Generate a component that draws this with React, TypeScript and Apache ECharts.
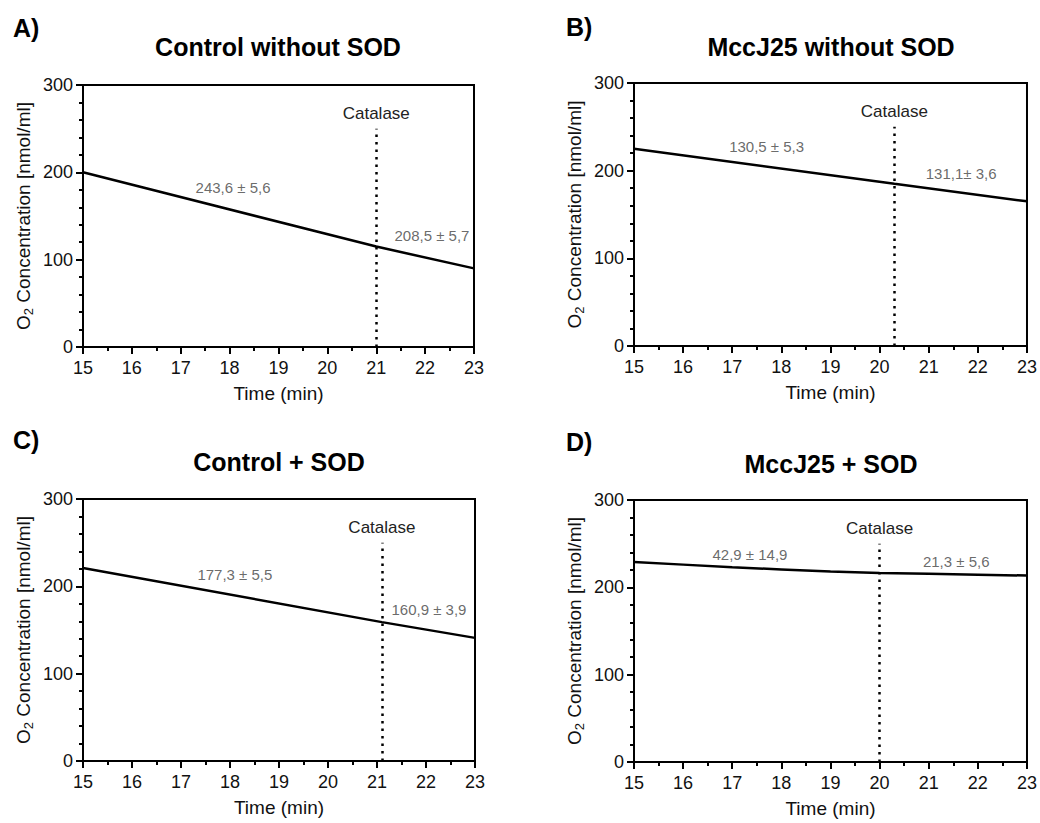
import React, { useEffect, useRef } from "react";
import * as echarts from "echarts";

const FONT = "Liberation Sans, Arial, sans-serif";

// Panel titles and letters
const panelLetters = ["A)", "B)", "C)", "D)"];
const panelTitles = ["Control without SOD", "MccJ25 without SOD", "Control + SOD", "MccJ25 + SOD"];

// Time (min) / O2 concentration (nmol/ml) per panel
const timeA = [15, 21, 23];
const valuesA = [200, 115, 90];
const timeB = [15, 20.3, 23];
const valuesB = [225, 185, 165];
const timeC = [15, 21.1, 23];
const valuesC = [221, 159, 141];
const timeD = [15, 16, 17, 18, 19, 20, 21, 22, 23];
const valuesD = [229, 226, 223, 220.5, 218, 216.5, 215.5, 214.5, 213.5];

// Catalase addition time per panel
const catalaseTimes = [21, 20.3, 21.1, 20];
const catalaseTop = 250;

// Rate annotations: text, x (min), y (nmol/ml)
const rateTextsA = ["243,6 \u00b1 5,6", "208,5 \u00b1 5,7"];
const rateXA = [18.07, 22.14];
const rateYA = [183, 128];
const rateTextsB = ["130,5 \u00b1 5,3", "131,1\u00b1 3,6"];
const rateXB = [17.7, 21.66];
const rateYB = [227, 197];
const rateTextsC = ["177,3 \u00b1 5,5", "160,9 \u00b1 3,9"];
const rateXC = [18.1, 22.06];
const rateYC = [214, 173];
const rateTextsD = ["42,9 \u00b1 14,9", "21,3 \u00b1 5,6"];
const rateXD = [17.36, 21.56];
const rateYD = [238, 230];

const xTicks = { min: 15, max: 23, interval: 1 };
const yTicks = { min: 0, max: 300, interval: 100 };

export default function App() {
  const ref = useRef<HTMLDivElement>(null);

  useEffect(() => {
    if (!ref.current) return;
    const chart = echarts.init(ref.current, null, { renderer: "svg" });

    const grids = [
      { left: 83, top: 85, width: 391, height: 262 },
      { left: 634, top: 83, width: 393, height: 263 },
      { left: 83, top: 499, width: 392, height: 262 },
      { left: 634, top: 500, width: 393, height: 262 },
    ];
    const titlePos = [
      [278, 47],
      [831, 47],
      [279, 462],
      [831, 464],
    ];
    const letterPos = [
      [13, 28],
      [566, 27],
      [13, 440],
      [566, 442],
    ];

    const times = [timeA, timeB, timeC, timeD];
    const vals = [valuesA, valuesB, valuesC, valuesD];
    const rateTexts = [rateTextsA, rateTextsB, rateTextsC, rateTextsD];
    const rateXs = [rateXA, rateXB, rateXC, rateXD];
    const rateYs = [rateYA, rateYB, rateYC, rateYD];

    const xAxes = grids.map((_, i) => ({
      type: "value",
      gridIndex: i,
      min: xTicks.min,
      max: xTicks.max,
      interval: xTicks.interval,
      name: "Time (min)",
      nameLocation: "middle",
      nameGap: 37,
      nameTextStyle: { fontFamily: FONT, fontSize: 19, color: "#111" },
      axisLine: { show: true, onZero: false, lineStyle: { color: "#000", width: 2 } },
      axisTick: { show: true, length: 7, lineStyle: { color: "#000", width: 2 } },
      minorTick: { show: true, splitNumber: 2, length: 4, lineStyle: { color: "#000", width: 2 } },
      axisLabel: { fontFamily: FONT, fontSize: 18, color: "#111", margin: 12 },
      splitLine: { show: false },
    }));

    const yAxes = grids.map((_, i) => ({
      type: "value",
      gridIndex: i,
      min: yTicks.min,
      max: yTicks.max,
      interval: yTicks.interval,
      name: "{o|O}{s|2}{o| Concentration [nmol/ml]}",
      nameLocation: "middle",
      nameGap: 48,
      nameTextStyle: {
        rich: {
          o: { fontFamily: FONT, fontSize: 19, color: "#111", lineHeight: 23 },
          s: { fontFamily: FONT, fontSize: 13, color: "#111", lineHeight: 12, verticalAlign: "bottom" },
        },
      },
      axisLine: { show: true, onZero: false, lineStyle: { color: "#000", width: 2 } },
      axisTick: { show: true, length: 7, lineStyle: { color: "#000", width: 2 } },
      minorTick: { show: true, splitNumber: 5, length: 4, lineStyle: { color: "#000", width: 2 } },
      axisLabel: { fontFamily: FONT, fontSize: 18, color: "#111", margin: 10 },
      splitLine: { show: false },
    }));

    const series: any[] = [];
    grids.forEach((_, i) => {
      series.push({
        type: "line",
        xAxisIndex: i,
        yAxisIndex: i,
        data: times[i].map((t, k) => [t, vals[i][k]]),
        symbol: "none",
        smooth: false,
        lineStyle: { color: "#000", width: 2.5 },
        z: 3,
        markLine: {
          silent: true,
          symbol: ["none", "none"],
          lineStyle: { color: "#000", type: [2.5, 5], width: 2.5 },
          label: {
            show: true,
            position: "end",
            distance: 7,
            formatter: "Catalase",
            fontFamily: FONT,
            fontSize: 17,
            color: "#222",
          },
          data: [
            [
              { coord: [catalaseTimes[i], 0] },
              { coord: [catalaseTimes[i], catalaseTop] },
            ],
          ],
        },
      });
      series.push({
        type: "scatter",
        xAxisIndex: i,
        yAxisIndex: i,
        symbolSize: 0,
        silent: true,
        data: rateTexts[i].map((t, k) => ({ name: t, value: [rateXs[i][k], rateYs[i][k]] })),
        label: {
          show: true,
          position: "inside",
          formatter: (p: any) => p.name,
          fontFamily: FONT,
          fontSize: 15,
          color: "#444",
        },
      });
    });

    const graphics: any[] = [];
    grids.forEach((_, i) => {
      graphics.push({
        type: "text",
        x: titlePos[i][0],
        y: titlePos[i][1],
        style: {
          text: panelTitles[i],
          fill: "#000",
          font: `bold 25px ${FONT}`,
          textAlign: "center",
          textVerticalAlign: "middle",
        },
      });
      graphics.push({
        type: "text",
        x: letterPos[i][0],
        y: letterPos[i][1],
        style: {
          text: panelLetters[i],
          fill: "#000",
          font: `bold 25px ${FONT}`,
          textAlign: "left",
          textVerticalAlign: "middle",
        },
      });
    });

    chart.setOption({
      animation: false,
      backgroundColor: "#fff",
      grid: grids.map((g) => ({
        ...g,
        show: true,
        borderColor: "#000",
        borderWidth: 2,
        backgroundColor: "transparent",
        containLabel: false,
      })),
      xAxis: xAxes,
      yAxis: yAxes,
      series,
      graphic: graphics,
    });

    return () => chart.dispose();
  }, []);

  return (
    <div
      ref={ref}
      style={{ position: "fixed", left: 0, top: 0, width: 1040, height: 823, background: "#fff" }}
    />
  );
}
